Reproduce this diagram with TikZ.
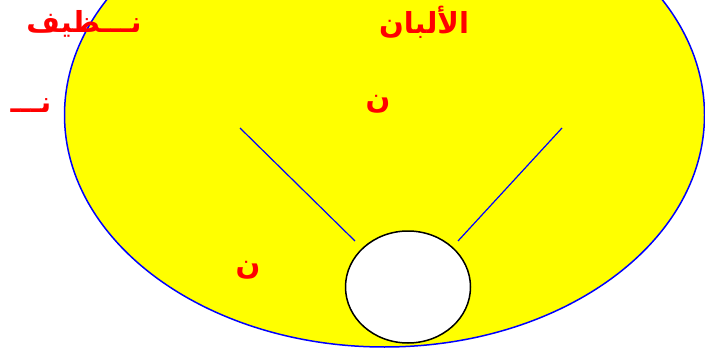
\documentclass[tikz,border=0pt]{standalone}
\usepackage{fontspec}
\usetikzlibrary{shapes.geometric}
\newfontfamily\arabicfont[Script=Arabic]{DejaVu Sans}
\TeXXeTstate=1
\definecolor{pureyellow}{RGB}{255,255,0}
\definecolor{purered}{RGB}{255,0,0}
\definecolor{pureblue}{RGB}{0,0,255}
\tikzset{
  lbl/.style={text=purered, font=\arabicfont\bfseries\fontsize{29}{34}\selectfont, inner sep=0pt},
  bluelines/.style={draw=pureblue, line width=1.2pt},
}
\begin{document}
\begin{tikzpicture}[x=1pt,y=-1pt]
\useasboundingbox (0,0) rectangle (705,353);
\clip (0,0) rectangle (705,353);
\node[ellipse, draw=pureblue, fill=pureyellow, line width=1.5pt, minimum width=640pt, minimum height=464pt, inner sep=0pt] (big) at (384.5,115) {};
\node[ellipse, draw=black, fill=white, line width=1.5pt, minimum width=125pt, minimum height=112pt, inner sep=0pt] (small) at (408,287) {};
\coordinate (l1) at (240,128);
\coordinate (l2) at (355,241);
\coordinate (r1) at (562,128);
\coordinate (r2) at (458,241);
\draw[bluelines] (l1) -- (l2);
\draw[bluelines] (r1) -- (r2);
\node[lbl] (t1) at (84,24) {\beginR نـــظيف\endR};
\node[lbl] (t2) at (424,22) {\beginR الألبان\endR};
\node[lbl] (t3) at (378,104) {\beginR ن\endR};
\node[lbl] (t4) at (31,106) {\beginR نـــ\endR};
\node[lbl] (t5) at (248,270) {\beginR ن\endR};
\end{tikzpicture}
\end{document}
